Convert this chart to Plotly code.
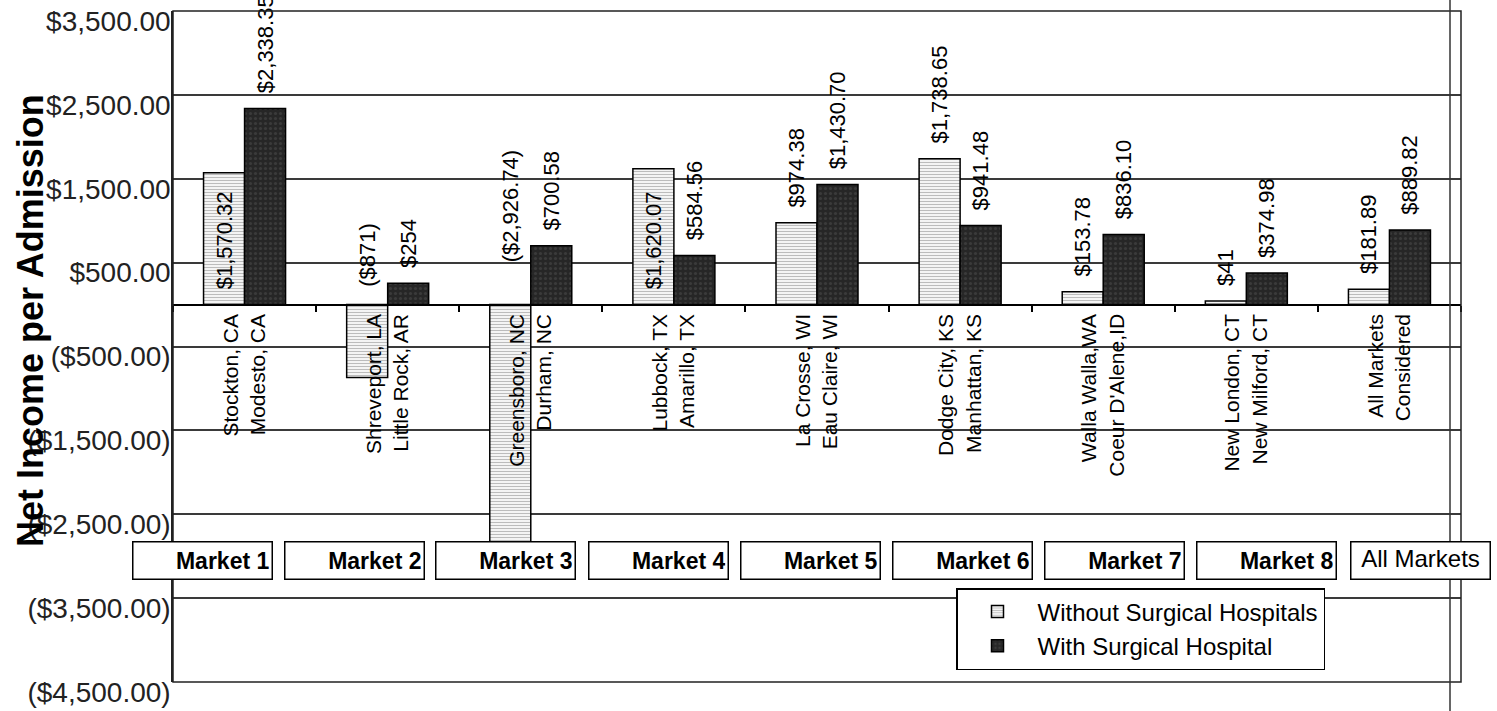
import plotly.graph_objects as go

# ---------------- data ----------------
categories = [
    "Stockton, CA<br>Modesto, CA",
    "Shreveport, LA<br>Little Rock, AR",
    "Greensboro, NC<br>Durham, NC",
    "Lubbock, TX<br>Amarillo, TX",
    "La Crosse, WI<br>Eau Claire, WI",
    "Dodge City, KS<br>Manhattan, KS",
    "Walla Walla,WA<br>Coeur D'Alene,ID",
    "New London, CT<br>New Milford, CT",
    "All Markets<br>Considered",
]
without_surgical = [1570.32, -871, -2926.74, 1620.07, 974.38, 1738.65, 153.78, 41, 181.89]
with_surgical = [2338.35, 254, 700.58, 584.56, 1430.70, 941.48, 836.10, 374.98, 889.82]
market_labels = ["Market 1", "Market 2", "Market 3", "Market 4", "Market 5",
                 "Market 6", "Market 7", "Market 8", "All Markets"]
y_tick_values = [3500, 2500, 1500, 500, -500, -1500, -2500, -3500, -4500]
y_tick_labels = ["$3,500.00", "$2,500.00", "$1,500.00", "$500.00", "($500.00)",
                 "($1,500.00)", "($2,500.00)", "($3,500.00)", "($4,500.00)"]
series_names = ["Without Surgical Hospitals", "With Surgical Hospital"]
y_title = "Net Income per Admission"
inside_label_idx = [0, 3]   # labels drawn inside the bar base in the original


def money(v):
    s = f"{abs(v):,.0f}" if v == round(v) else f"{abs(v):,.2f}"
    return f"(${s})" if v < 0 else f"${s}"


# ---------------- geometry (pixels) ----------------
W, H = 1497, 711
ML, MR, MT, MB = 173, 36, 11, 29
PW, PH = W - ML - MR, H - MT - MB
YMIN, YMAX = -4500, 3500
FONT = "Liberation Sans, Arial, sans-serif"
PAD = "\u00a0\u00a0"


def px_x(px):
    return (px - ML) / PW


def px_y(py):
    return (H - MB - py) / PH


# per-bar text settings
wo_text, wo_pos = [], []
for i, v in enumerate(without_surgical):
    wo_text.append(PAD + money(v))
    if v < 0:
        wo_pos.append("none")
    elif i in inside_label_idx:
        wo_pos.append("inside")
    else:
        wo_pos.append("outside")

fig = go.Figure()
fig.add_trace(go.Bar(
    name=series_names[0], x=categories, y=without_surgical,
    text=wo_text, textposition=wo_pos, textangle=-90,
    insidetextanchor="start", constraintext="none", cliponaxis=False,
    textfont=dict(family=FONT, size=22, color="black"),
    insidetextfont=dict(family=FONT, size=22, color="black"),
    outsidetextfont=dict(family=FONT, size=22, color="black"),
    marker=dict(color="white", line=dict(color="black", width=1.5),
                pattern=dict(shape="-", fgcolor="#7a7a7a", bgcolor="white",
                             size=3, solidity=0.45)),
))
fig.add_trace(go.Bar(
    name=series_names[1], x=categories, y=with_surgical,
    text=[PAD + money(v) for v in with_surgical], textposition="outside",
    textangle=-90, constraintext="none", cliponaxis=False,
    textfont=dict(family=FONT, size=22, color="black"),
    outsidetextfont=dict(family=FONT, size=22, color="black"),
    marker=dict(color="#2a2a2a", line=dict(color="black", width=1.5),
                pattern=dict(shape=".", fgcolor="#4d4d4d", bgcolor="#262626",
                             size=5, solidity=0.3)),
))

annotations = []
# negative value labels, drawn above the zero line like the original
bargap = 0.427
bar_w = PW / len(categories) * (1 - bargap) / 2
for i, v in enumerate(without_surgical):
    if v < 0:
        annotations.append(dict(
            x=categories[i], y=0, xref="x", yref="y", xshift=-bar_w / 2,
            yshift=16 if v > -2000 else 40,
            text=money(v), showarrow=False, textangle=-90,
            xanchor="center", yanchor="bottom",
            font=dict(family=FONT, size=22, color="black")))

# y axis title
annotations.append(dict(
    x=px_x(30), y=px_y(321), xref="paper", yref="paper", text=f"<b>{y_title}</b>",
    showarrow=False, textangle=-90, xanchor="center", yanchor="middle",
    font=dict(family=FONT, size=36, color="black")))

# market boxes
box_w, box_h = 142, 40
for i, lab in enumerate(market_labels):
    left = 131 + 152 * i if i < 8 else 1349
    last = lab == "All Markets"
    annotations.append(dict(
        x=px_x(left + box_w / 2), y=px_y(560), xref="paper", yref="paper",
        xanchor="center", yanchor="middle",
        text=lab if last else f"<b>{lab}</b>", showarrow=False,
        width=box_w - 8, height=box_h - 8, align="right" if not last else "center",
        valign="top" if last else "middle",
        bordercolor="black", borderwidth=1.5, borderpad=2, bgcolor="white",
        font=dict(family=FONT, size=24 if last else 23, color="black")))

shapes = [
    dict(type="rect", xref="paper", yref="paper", x0=0, x1=1, y0=0, y1=1,
         line=dict(color="#222", width=1.5), layer="above"),
    dict(type="line", xref="paper", yref="paper", x0=px_x(1450), x1=px_x(1450),
         y0=px_y(H), y1=px_y(0), line=dict(color="#333", width=1.5)),
]

fig.update_layout(
    width=W, height=H,
    margin=dict(l=ML, r=MR, t=MT, b=MB, pad=0),
    paper_bgcolor="white", plot_bgcolor="white",
    font=dict(family=FONT, color="black"),
    barmode="group", bargap=bargap, bargroupgap=0,
    showlegend=True,
    legend=dict(x=px_x(956), y=px_y(588), xanchor="left", yanchor="top",
                bgcolor="white", bordercolor="black", borderwidth=1.5,
                itemwidth=70,
                font=dict(family=FONT, size=24, color="black"),
                tracegroupgap=0),
    annotations=annotations, shapes=shapes,
    xaxis=dict(type="category", anchor="free", position=(0 - YMIN) / (YMAX - YMIN),
               showline=True, linecolor="black", linewidth=2,
               ticks="outside", ticklen=6, tickcolor="black", tickwidth=1.5,
               tickson="boundaries", tickangle=-90, showgrid=False,
               tickfont=dict(family=FONT, size=21, color="black"),
               automargin=False),
    yaxis=dict(range=[YMIN, YMAX], tickvals=y_tick_values, ticktext=y_tick_labels,
               showgrid=True, gridcolor="#3a3a3a", gridwidth=1.5,
               zeroline=False, showline=True, linecolor="#222", linewidth=1.5,
               ticks="", ticklabelshift=10, ticklabelstandoff=-5,
               tickfont=dict(family=FONT, size=28, color="#222"),
               automargin=False),
)

fig.write_html("out.html")
